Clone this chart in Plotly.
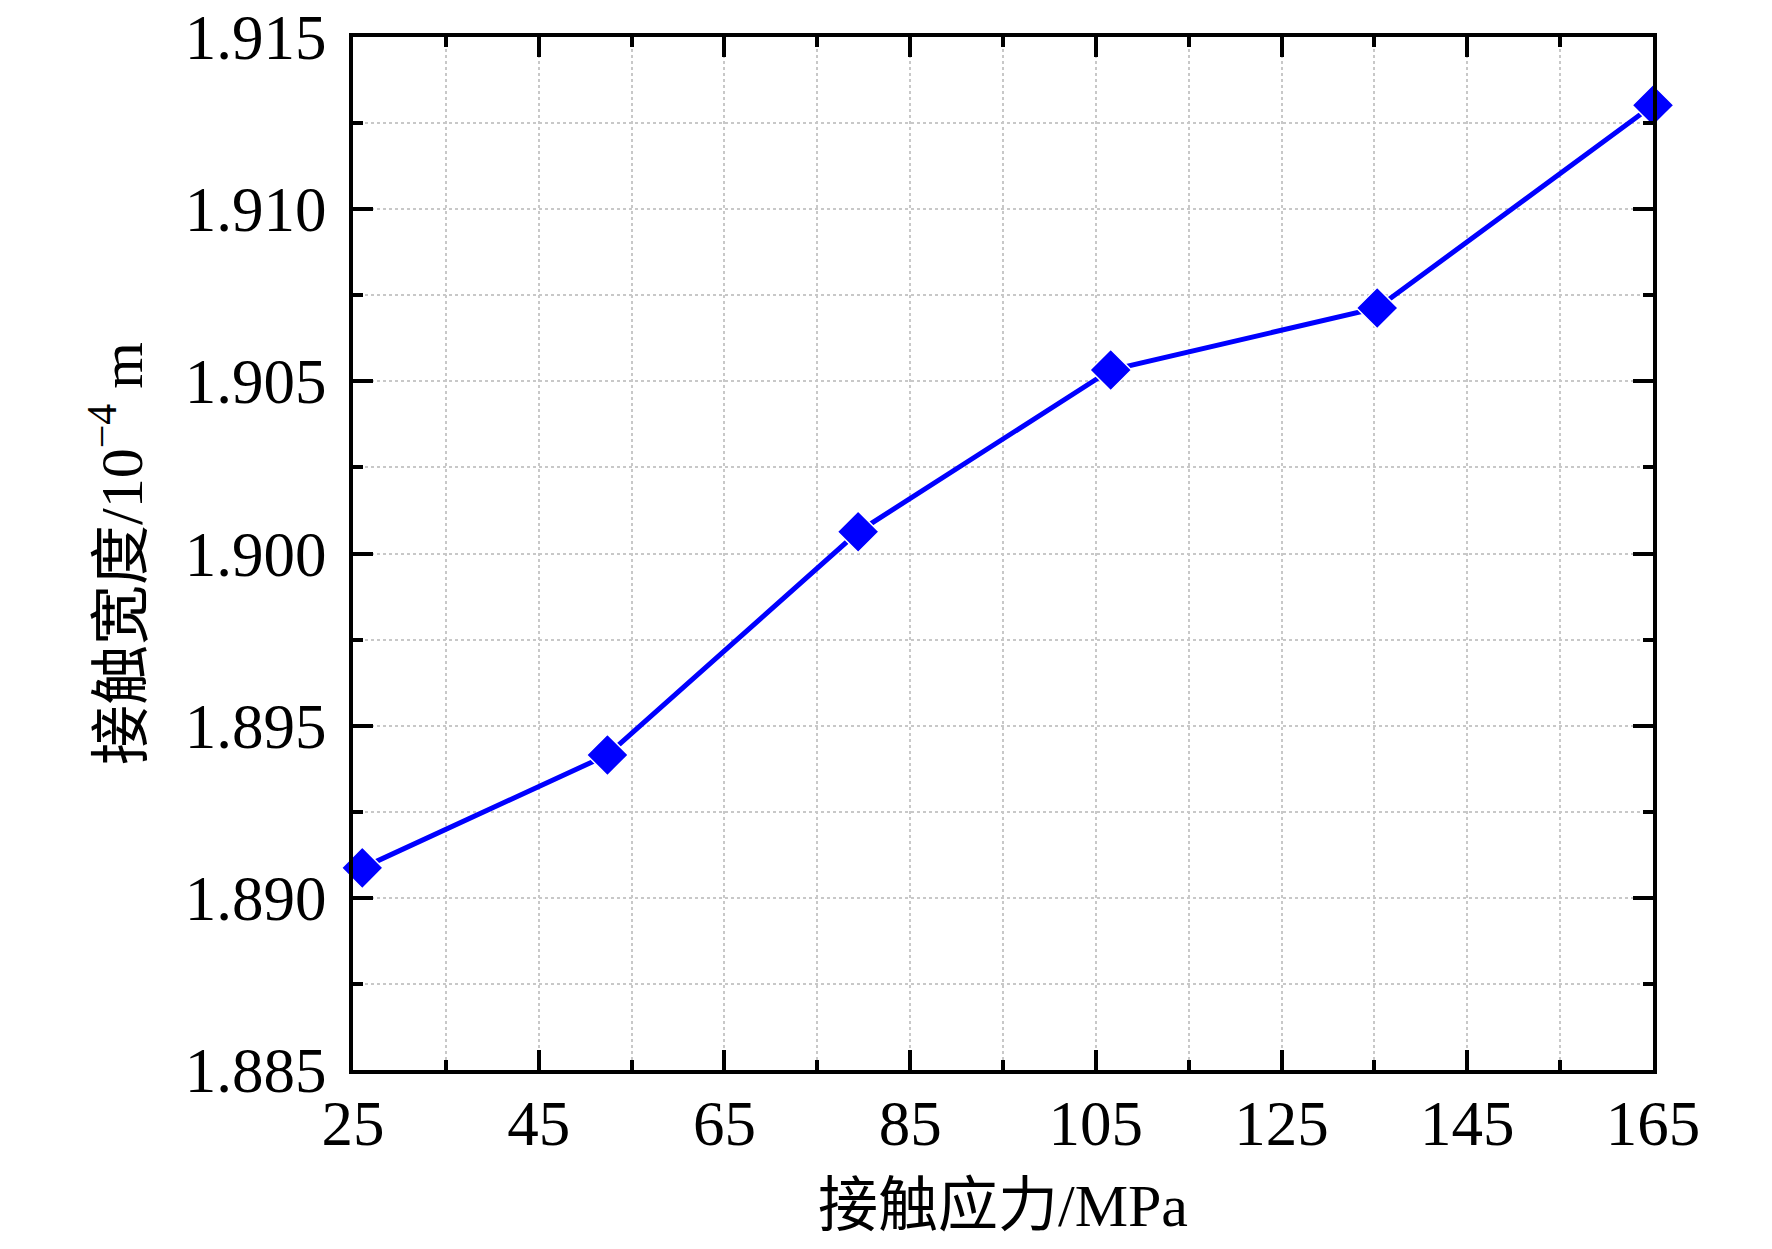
import plotly.graph_objects as go

# contact stress (MPa) vs contact width (1e-4 m)
stress = [26.0, 52.4, 79.4, 106.6, 135.3, 165.0]
width = [1.89087, 1.89415, 1.90063, 1.90533, 1.90713, 1.91302]

x_ticks = [25, 45, 65, 85, 105, 125, 145, 165]
y_ticks = [1.885, 1.890, 1.895, 1.900, 1.905, 1.910, 1.915]

font_main = "Liberation Serif, Times New Roman, Noto Sans CJK SC"

fig = go.Figure()
fig.add_trace(go.Scatter(
    x=stress, y=width,
    mode="lines+markers",
    line=dict(color="#0000ff", width=5),
    marker=dict(symbol="diamond", size=32, color="#0000ff",
                line=dict(color="white", width=1.5)),
    showlegend=False,
    cliponaxis=False,
))

axis_common = dict(
    showline=True, linecolor="black", linewidth=4, mirror="ticks",
    ticks="inside", ticklen=20, tickwidth=4, tickcolor="black",
    showgrid=False, zeroline=False, automargin=False,
    tickfont=dict(family=font_main, size=63, color="black"),
    ticklabeloverflow="allow",
)

fig.update_xaxes(
    range=[25, 165], tickvals=x_ticks,
    minor=dict(dtick=10, tick0=25, ticks="inside", ticklen=10, tickwidth=4,
               tickcolor="black", showgrid=True, gridcolor="#c8c8c8",
               griddash="dot", gridwidth=2),
    title=dict(text="接触应力/MPa", standoff=27,
               font=dict(family=font_main, size=60, color="black")),
    ticklabelstandoff=-5,
    **axis_common,
)
fig.update_yaxes(
    range=[1.885, 1.915], tickvals=y_ticks, tickformat=".3f",
    minor=dict(dtick=0.0025, tick0=1.885, ticks="inside", ticklen=10, tickwidth=4,
               tickcolor="black", showgrid=True, gridcolor="#c8c8c8",
               griddash="dot", gridwidth=2),
    title=dict(text="接触宽度/10<sup>−4</sup> m", standoff=24,
               font=dict(family=font_main, size=60, color="black")),
    ticklabelstandoff=10,
    **axis_common,
)

# page body adds 8px around the figure, so shrink to fit the window
fig.update_layout(
    width=1756, height=1233,
    margin=dict(l=345, r=111, t=29, b=171),
    plot_bgcolor="white", paper_bgcolor="white",
)

fig.write_html("out.html")
